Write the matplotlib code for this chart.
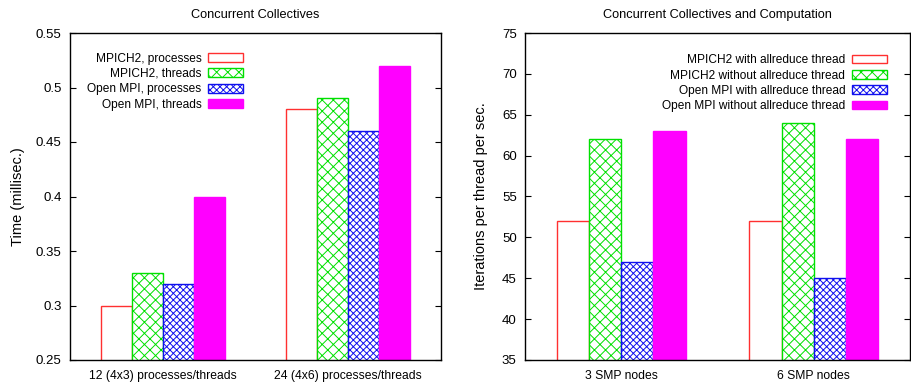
import matplotlib
matplotlib.use('Agg')
import matplotlib.pyplot as plt
import numpy as np

plt.rcParams['font.family'] = ['Liberation Sans', 'DejaVu Sans']
plt.rcParams['font.size'] = 9
plt.rcParams['hatch.linewidth'] = 0.7

# left chart
left_groups = ['12 (4x3) processes/threads', '24 (4x6) processes/threads']
left_series = ['MPICH2, processes', 'MPICH2, threads',
               'Open MPI, processes', 'Open MPI, threads']
left_values = [[0.30, 0.48],
               [0.33, 0.49],
               [0.32, 0.46],
               [0.40, 0.52]]
left_ticks = [0.25, 0.3, 0.35, 0.4, 0.45, 0.5, 0.55]

# right chart
right_groups = ['3 SMP nodes', '6 SMP nodes']
right_series = ['MPICH2 with allreduce thread', 'MPICH2 without allreduce thread',
                'Open MPI with allreduce thread', 'Open MPI without allreduce thread']
right_values = [[52, 52],
                [62, 64],
                [47, 45],
                [63, 62]]
right_ticks = [35, 40, 45, 50, 55, 60, 65, 70, 75]

styles = [dict(facecolor='white', edgecolor='#ff3030', hatch=None),
          dict(facecolor='white', edgecolor='#00e000', hatch='xxx'),
          dict(facecolor='white', edgecolor='#1010ee', hatch='xxxxx'),
          dict(facecolor='#ff00ff', edgecolor='#ff00ff', hatch=None)]

fig = plt.figure(figsize=(9.12, 3.88), dpi=100)
ax1 = fig.add_axes([70/912, 28/388, 371/912, 327/388])
ax2 = fig.add_axes([525/912, 28/388, 385/912, 327/388])


def draw(ax, groups, series, values, ticks, title, ylabel, anchor, lpad):
    w = 0.167
    x = np.arange(len(groups))
    for i, (name, vals) in enumerate(zip(series, values)):
        st = styles[i]
        ax.bar(x - 1.5 * w + i * w, vals, width=w, bottom=0,
               facecolor=st['facecolor'], edgecolor=st['edgecolor'],
               hatch=st['hatch'], linewidth=1.0, label=name)
    ax.set_xlim(-0.5, 1.5)
    ax.set_ylim(ticks[0], ticks[-1])
    ax.set_yticks(ticks)
    ax.set_yticklabels([('%g' % t) for t in ticks], fontsize=9.5)
    ax.set_xticks(x)
    ax.set_xticklabels(groups, fontsize=8.7)
    ax.tick_params(axis='y', direction='in', right=True, length=4, pad=6)
    ax.tick_params(axis='x', length=0, pad=7)
    for s in ax.spines.values():
        s.set_linewidth(1.0)
    ax.set_title(title, fontsize=9.2, pad=11)
    ax.set_ylabel(ylabel, labelpad=lpad, fontsize=10.5)
    leg = ax.legend(loc='upper right', bbox_to_anchor=anchor, frameon=False,
                    markerfirst=False, handlelength=2.93, handleheight=0.75,
                    handletextpad=0.55, labelspacing=0.28, borderpad=0,
                    borderaxespad=0, fontsize=8.6)
    return leg


draw(ax1, left_groups, left_series, left_values, left_ticks,
     'Concurrent Collectives', 'Time (millisec.)', (0.466, 0.94), 8)
draw(ax2, right_groups, right_series, right_values, right_ticks,
     'Concurrent Collectives and Computation', 'Iterations per thread per sec.',
     (0.94, 0.935), 10)

plt.savefig('out.png', dpi=100)
